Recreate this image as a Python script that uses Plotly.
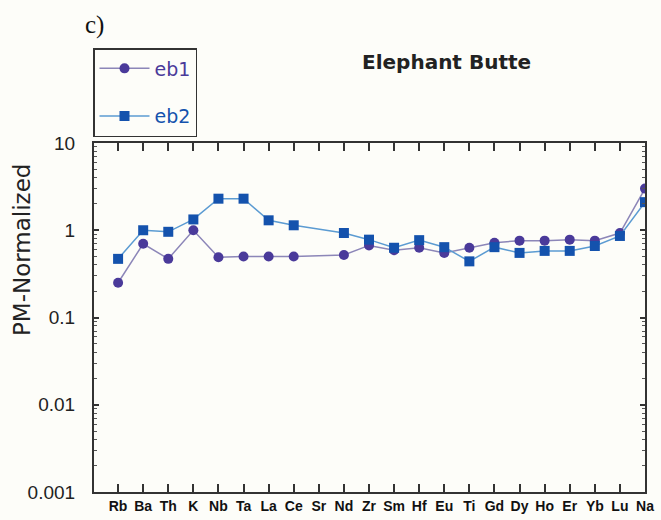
import plotly.graph_objects as go

# Primitive-mantle-normalised trace element pattern, Elephant Butte samples
elements = ["Rb", "Ba", "Th", "K", "Nb", "Ta", "La", "Ce", "Sr", "Nd", "Zr",
            "Sm", "Hf", "Eu", "Ti", "Gd", "Dy", "Ho", "Er", "Yb", "Lu", "Na"]
eb1 = [0.25, 0.70, 0.47, 1.00, 0.49, 0.50, 0.50, 0.50, None, 0.52, 0.67,
       0.59, 0.63, 0.55, 0.63, 0.72, 0.76, 0.76, 0.78, 0.76, 0.93, 3.0]
eb2 = [0.47, 1.00, 0.96, 1.33, 2.3, 2.3, 1.30, 1.14, None, 0.93, 0.78,
       0.63, 0.77, 0.64, 0.44, 0.64, 0.55, 0.58, 0.58, 0.66, 0.86, 2.1]
decades = [-3, -2, -1, 0]
minor_steps = [2, 3, 4, 5, 6, 7, 8, 9]

PURPLE = "#4a3a9a"
BLUE = "#1452ad"
FRAME = "#333333"
BG = "#fdfdf9"

# plot-area geometry in pixels
W, H = 661, 520
L, R, T, B = 94, 16, 143, 28
pw = W - L - R
ph = H - T - B

X_RANGE = [-0.96, 21]
Y_RANGE = [-3, 1]
minor_vals = [k * 10.0 ** e for e in decades for k in minor_steps]

fig = go.Figure()
fig.add_trace(go.Scatter(
    x=elements, y=eb1, mode="lines+markers", connectgaps=True,
    name="<span style='color:%s'>eb1</span>" % PURPLE, legendgroup="a",
    line=dict(color="#8c86b8", width=1.5),
    marker=dict(symbol="circle", size=10, color=PURPLE),
))
fig.add_trace(go.Scatter(
    x=elements, y=eb2, mode="lines+markers", connectgaps=True,
    name="<span style='color:%s'>eb2</span>" % BLUE, legendgroup="b",
    line=dict(color="#5b9bd2", width=1.5),
    marker=dict(symbol="square", size=10, color=BLUE),
))
# invisible carriers for the extra tick axes of the frame
for xa, ya in [("x2", "y2"), ("x", "y3"), ("x", "y4")]:
    fig.add_trace(go.Scatter(
        x=elements, y=eb1, xaxis=xa, yaxis=ya, mode="markers",
        marker=dict(opacity=0), showlegend=False, hoverinfo="skip",
    ))

common = dict(showgrid=False, zeroline=False, showline=True,
              linecolor=FRAME, linewidth=1.5, tickcolor=FRAME, tickwidth=1.5)
x_common = dict(type="category", categoryorder="array", categoryarray=elements,
                range=X_RANGE, ticks="inside", ticklen=8, **common)
y_common = dict(type="log", range=Y_RANGE, dtick=1, ticks="inside", ticklen=5,
                exponentformat="none", **common)
y_minor = dict(type="log", range=Y_RANGE, tickmode="array", tickvals=minor_vals,
               ticks="inside", ticklen=3, tickwidth=1, tickcolor="#555555",
               showticklabels=False, showline=False, showgrid=False,
               zeroline=False, overlaying="y", anchor="x")

fig.update_layout(
    template="none",
    width=W, height=H,
    margin=dict(l=L, r=R, t=T, b=B),
    paper_bgcolor=BG, plot_bgcolor=BG,
    font=dict(family="Liberation Sans, Arial, sans-serif", color="#222"),
    showlegend=True,
    legend=dict(
        x=(93 - L) / pw, y=1 + (T - 48) / ph, xanchor="left", yanchor="top",
        bgcolor=BG, bordercolor=FRAME, borderwidth=1.5,
        font=dict(size=19, family="DejaVu Sans, sans-serif"),
        tracegroupgap=20, traceorder="grouped",
        itemwidth=50,
    ),
    xaxis=dict(
        tickfont=dict(size=14, family="Liberation Sans, Arial, sans-serif",
                      weight="bold", color="#111"),
        **x_common,
    ),
    xaxis2=dict(overlaying="x", side="top", anchor="y", showticklabels=False,
                **x_common),
    yaxis=dict(
        tickfont=dict(size=19, family="Liberation Sans, Arial, sans-serif", color="#222"),
        ticksuffix="\u2002\u2009",
        **y_common,
    ),
    yaxis2=dict(overlaying="y", side="right", anchor="x", showticklabels=False,
                **y_common),
    yaxis3=dict(side="left", **y_minor),
    yaxis4=dict(side="right", **y_minor),
    annotations=[
        dict(text="c)", xref="paper", yref="paper",
             x=(83 - L) / pw, y=1 + (T - 25) / ph, xanchor="left", yanchor="middle",
             showarrow=False,
             font=dict(size=25, family="Liberation Serif, Times New Roman, serif", color="#111")),
        dict(text="Elephant Butte", xref="paper", yref="paper",
             x=(446 - L) / pw, y=1 + (T - 62) / ph, xanchor="center", yanchor="middle",
             showarrow=False,
             font=dict(size=20, family="DejaVu Sans, sans-serif", weight="bold", color="#222")),
        dict(text="PM-Normalized", xref="paper", yref="paper", textangle=-90,
             x=(22 - L) / pw, y=(H - B - 250) / ph, xanchor="center", yanchor="middle",
             showarrow=False,
             font=dict(size=23, family="DejaVu Sans, sans-serif", color="#222")),
    ],
)

fig.write_html("out.html")
